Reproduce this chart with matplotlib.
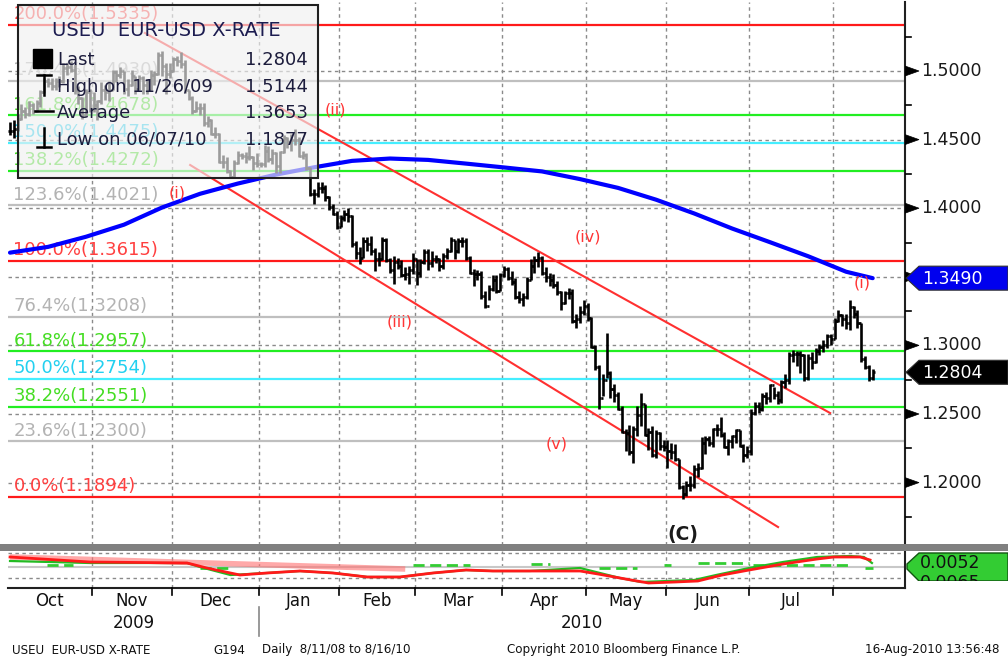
import numpy as np
import pandas as pd
import matplotlib
matplotlib.use("Agg")
import matplotlib.pyplot as plt
from matplotlib.collections import LineCollection
from matplotlib.patches import Rectangle, Polygon
from matplotlib.transforms import blended_transform_factory as blend

plt.rcParams['font.family'] = ['DejaVu Sans']

# ---------------- data ----------------
# daily EUR-USD bars, 1 Oct 2009 .. 16 Aug 2010 (business days)
close = [
    1.4560,1.4575,1.4650,1.4710,1.4690,1.4750,1.4710,1.4770,1.4850,1.4930,1.4910,1.4890,1.4930,1.4930,1.5020,1.5030,1.5010,1.4860,1.4800,1.4680,1.4850,1.4720,
    1.4750,1.4780,1.4860,1.4850,1.4860,1.4990,1.4970,1.5000,1.4870,1.4900,1.4960,1.4870,1.4950,1.4900,1.4860,1.4970,1.4980,1.5120,1.5040,1.4980,1.5000,
    1.5090,1.5070,1.5050,1.4860,1.4800,1.4710,1.4730,1.4730,1.4620,1.4640,1.4540,1.4540,1.4340,1.4340,1.4270,1.4230,1.4330,1.4390,1.4380,1.4370,1.4370,1.4330,1.4320,
    1.4320,1.4420,1.4360,1.4400,1.4310,1.4410,1.4510,1.4480,1.4500,1.4500,1.4380,1.4390,1.4290,1.4100,1.4100,1.4150,1.4150,1.4080,1.4010,1.3960,1.3860,
    1.3930,1.3960,1.3940,1.3740,1.3670,1.3640,1.3760,1.3740,1.3690,1.3630,1.3630,1.3770,1.3620,1.3550,1.3610,1.3580,1.3510,1.3520,1.3550,1.3630,
    1.3530,1.3610,1.3680,1.3600,1.3630,1.3630,1.3580,1.3650,1.3690,1.3770,1.3690,1.3760,1.3760,1.3640,1.3530,1.3520,1.3520,1.3360,1.3290,1.3410,1.3480,1.3400,1.3510,
    1.3560,1.3490,1.3460,1.3350,1.3340,1.3350,1.3480,1.3580,1.3620,1.3640,1.3530,1.3500,1.3480,1.3440,1.3390,1.3310,1.3380,1.3380,1.3180,1.3190,1.3240,1.3290,
    1.3200,1.2990,1.2840,1.2620,1.2750,1.2800,1.2680,1.2640,1.2540,1.2370,1.2360,1.2220,1.2390,1.2490,1.2570,1.2350,1.2370,1.2200,1.2360,1.2270,1.2260,
    1.2230,1.2220,1.2170,1.1970,1.1920,1.1980,1.1980,1.2100,1.2110,1.2290,1.2320,1.2290,1.2390,1.2390,1.2350,1.2260,1.2300,1.2340,1.2380,1.2270,1.2200,1.2230,
    1.2510,1.2560,1.2540,1.2630,1.2620,1.2710,1.2640,1.2600,1.2730,1.2750,1.2930,1.2940,1.2940,1.2930,1.2760,1.2910,1.2880,1.2960,1.2990,1.3000,1.3070,1.3050,
    1.3180,1.3220,1.3190,1.3160,1.3280,1.3230,1.3160,1.2900,1.2840,1.2760,1.2804,
]
high = [
    1.4630,1.4640,1.4690,1.4760,1.4740,1.4780,1.4770,1.4790,1.4860,1.4950,1.4950,1.4950,1.4950,1.4960,1.5060,1.5060,1.5070,1.5050,1.4890,1.4810,1.4870,1.4870,
    1.4850,1.4790,1.4920,1.4900,1.4930,1.5010,1.5010,1.5030,1.5000,1.4940,1.5010,1.4960,1.4970,1.4960,1.4940,1.5010,1.5000,1.5140,1.5144,1.5060,1.5060,
    1.5100,1.5110,1.5140,1.5080,1.4860,1.4820,1.4780,1.4770,1.4770,1.4670,1.4650,1.4590,1.4550,1.4390,1.4370,1.4280,1.4350,1.4420,1.4400,1.4410,1.4450,1.4380,1.4400,
    1.4340,1.4460,1.4450,1.4430,1.4410,1.4420,1.4530,1.4520,1.4540,1.4580,1.4520,1.4420,1.4400,1.4300,1.4140,1.4190,1.4190,1.4170,1.4090,1.4030,1.3980,
    1.3950,1.3990,1.4000,1.3950,1.3760,1.3720,1.3790,1.3790,1.3800,1.3710,1.3680,1.3790,1.3780,1.3640,1.3650,1.3640,1.3620,1.3570,1.3580,1.3670,
    1.3630,1.3630,1.3700,1.3700,1.3690,1.3660,1.3640,1.3670,1.3710,1.3790,1.3770,1.3780,1.3790,1.3780,1.3650,1.3560,1.3550,1.3540,1.3400,1.3440,1.3510,1.3510,1.3530,
    1.3580,1.3570,1.3540,1.3490,1.3400,1.3380,1.3500,1.3630,1.3650,1.3680,1.3650,1.3570,1.3530,1.3520,1.3470,1.3400,1.3400,1.3420,1.3410,1.3230,1.3290,1.3330,
    1.3310,1.3210,1.3000,1.2860,1.2790,1.3090,1.2810,1.2720,1.2660,1.2560,1.2390,1.2420,1.2410,1.2560,1.2650,1.2570,1.2400,1.2410,1.2380,1.2370,1.2310,
    1.2310,1.2290,1.2280,1.2170,1.1980,1.2010,1.2050,1.2130,1.2140,1.2330,1.2340,1.2340,1.2400,1.2430,1.2480,1.2370,1.2320,1.2350,1.2390,1.2380,1.2280,1.2270,
    1.2540,1.2590,1.2590,1.2650,1.2660,1.2720,1.2700,1.2670,1.2750,1.2790,1.2950,1.2970,1.2960,1.2960,1.2940,1.2940,1.2950,1.2980,1.3010,1.3040,1.3080,1.3080,
    1.3200,1.3260,1.3230,1.3230,1.3330,1.3290,1.3260,1.3160,1.2920,1.2860,1.2830,
]
low = [
    1.4530,1.4510,1.4560,1.4640,1.4660,1.4670,1.4690,1.4700,1.4740,1.4840,1.4880,1.4860,1.4860,1.4880,1.4910,1.4970,1.4990,1.4830,1.4760,1.4650,1.4670,1.4700,
    1.4700,1.4640,1.4760,1.4790,1.4780,1.4860,1.4920,1.4950,1.4830,1.4820,1.4890,1.4830,1.4860,1.4830,1.4830,1.4860,1.4900,1.4970,1.4960,1.4830,1.4950,
    1.4990,1.5040,1.5020,1.4840,1.4790,1.4690,1.4700,1.4680,1.4600,1.4590,1.4530,1.4510,1.4330,1.4290,1.4260,1.4220,1.4220,1.4320,1.4360,1.4330,1.4350,1.4280,1.4300,
    1.4300,1.4300,1.4340,1.4320,1.4260,1.4260,1.4400,1.4440,1.4420,1.4460,1.4370,1.4360,1.4280,1.4090,1.4030,1.4080,1.4110,1.4050,1.3990,1.3950,1.3850,
    1.3860,1.3910,1.3900,1.3720,1.3630,1.3590,1.3640,1.3690,1.3660,1.3540,1.3580,1.3620,1.3610,1.3530,1.3450,1.3560,1.3500,1.3480,1.3450,1.3520,
    1.3440,1.3500,1.3590,1.3550,1.3570,1.3600,1.3540,1.3560,1.3630,1.3680,1.3630,1.3670,1.3720,1.3620,1.3520,1.3430,1.3480,1.3340,1.3270,1.3330,1.3400,1.3380,1.3400,
    1.3500,1.3480,1.3440,1.3340,1.3310,1.3290,1.3340,1.3480,1.3530,1.3570,1.3510,1.3460,1.3430,1.3420,1.3370,1.3260,1.3300,1.3340,1.3160,1.3130,1.3160,1.3220,
    1.3180,1.2980,1.2820,1.2540,1.2630,1.2760,1.2620,1.2590,1.2530,1.2360,1.2230,1.2200,1.2140,1.2340,1.2410,1.2340,1.2240,1.2190,1.2180,1.2240,1.2230,
    1.2110,1.2170,1.2160,1.1950,1.1877,1.1900,1.1940,1.1960,1.2040,1.2100,1.2210,1.2270,1.2260,1.2340,1.2330,1.2250,1.2200,1.2250,1.2290,1.2260,1.2150,1.2180,
    1.2200,1.2490,1.2510,1.2520,1.2570,1.2590,1.2610,1.2570,1.2580,1.2690,1.2720,1.2880,1.2850,1.2800,1.2740,1.2750,1.2830,1.2870,1.2930,1.2950,1.2980,1.3000,
    1.3050,1.3170,1.3140,1.3120,1.3110,1.3200,1.3130,1.2880,1.2830,1.2740,1.2750,
]

# moving average (blue), read at trading-day indices
ma_idx = [0, 10, 20, 30, 40, 50, 60, 70, 80, 90, 100, 110, 120, 130, 140, 150, 160, 170, 180, 190, 200, 210, 220, 227]
ma_val = [1.3676, 1.3718, 1.3792, 1.3880, 1.4005, 1.4105, 1.4180, 1.4245, 1.4298, 1.4345, 1.4362, 1.4352,
          1.4325, 1.4297, 1.4268, 1.4212, 1.4148, 1.4062, 1.3962, 1.3852, 1.3752, 1.3650, 1.3537, 1.3490]

# trend channel
upper_idx = [35.5, 215.8]
upper_val = [1.5277, 1.2507]
lower_idx = [47.4, 202.1]
lower_val = [1.4315, 1.1676]

# Fibonacci levels
fib_pct = ["200.0%", "176.4%", "161.8%", "150.0%", "138.2%", "123.6%", "100.0%",
           "76.4%", "61.8%", "50.0%", "38.2%", "23.6%", "0.0%"]
fib_val = [1.5335, 1.4930, 1.4678, 1.4475, 1.4272, 1.4021, 1.3615,
           1.3208, 1.2957, 1.2754, 1.2551, 1.2300, 1.1894]
fib_kind = ["r", "g", "G", "c", "G", "g", "r", "g", "G", "c", "G", "g", "r"]

# Elliott wave labels
wave_txt = ["(i)", "(ii)", "(iii)", "(iv)", "(v)", "(C)", "(i)"]
wave_idx = [43.9, 85.5, 102.6, 152.1, 143.9, 177.1, 224.2]
wave_val = [1.411, 1.4716, 1.317, 1.379, 1.228, 1.162, 1.3455]

price_ticks = [1.20, 1.25, 1.30, 1.35, 1.40, 1.45, 1.50]
price_labels = ["1.2000", "1.2500", "1.3000", None, "1.4000", "1.4500", "1.5000"]
minor_ticks = [1.175, 1.225, 1.275, 1.325, 1.375, 1.425, 1.475, 1.525]
month_labels = ["Oct", "Nov", "Dec", "Jan", "Feb", "Mar", "Apr", "May", "Jun", "Jul"]

legend_rows = [("Last", "1.2804"), ("High on 11/26/09", "1.5144"),
               ("Average", "1.3653"), ("Low on 06/07/10", "1.1877")]
last_price = 1.2804
ma_last = 1.3490

# lower indicator panel
sig_idx = [0, 21, 46.6, 51.8, 60.5, 67.6, 76.3, 85, 94, 102.6, 111.3, 120, 127, 136.8, 150, 154.7,
           163.4, 168, 175, 181, 187.4, 194.5, 203.4, 212.4, 216.8, 223.7, 226.3]
sig_val = [0.010, 0.005, 0.004, -0.001, -0.008, -0.006, -0.004, -0.006, -0.010, -0.010, -0.006, -0.003,
           -0.004, -0.004, -0.004, -0.007, -0.013, -0.016, -0.015, -0.014, -0.008, -0.003, 0.003, 0.008,
           0.010, 0.010, 0.007]
macd_idx = [0, 21, 46.6, 50, 58, 67.6, 76.3, 85, 94, 102.6, 111.3, 120, 127, 136.8, 150, 160.5, 166,
            180, 185.8, 194.5, 203.4, 212.4, 221, 224.7, 226.8]
macd_val = [0.006, 0.004, 0.004, 0.000, -0.008, -0.006, -0.004, -0.006, -0.010, -0.010, -0.006, -0.003,
            -0.004, -0.004, -0.001, -0.011, -0.015, -0.013, -0.008, -0.001, 0.005, 0.010, 0.011, 0.010, 0.004]
hist_start = [9.7, 50, 106, 137, 155, 172, 181, 195.5, 225]
hist_end = [16.6, 58.7, 121, 142, 165, 174, 194.5, 221, 227]
hist_val = [0.002, -0.001, 0.002, 0.003, -0.001, 0.002, 0.004, 0.002, -0.001]
trend_idx = [0, 104]
trend_val = [0.010, -0.002]

# ---------------- layout ----------------
W, H, DPI = 1008, 664, 100
fig = plt.figure(figsize=(W / DPI, H / DPI), dpi=DPI)
fig.patch.set_facecolor("white")


def fx(px):
    return px / W


def fy(py):
    return 1 - py / H


n = len(close)
XL = (-0.53, 235.5)
YL = (1.5 - (545 - 71) / 1372, 1.5 + (71 - 2) / 1372)

ax = fig.add_axes([fx(8), fy(545), 897 / W, 543 / H])
ax.set_xlim(*XL)
ax.set_ylim(*YL)
for s in ["left", "top", "bottom"]:
    ax.spines[s].set_visible(False)
ax.spines["right"].set_color("#202020")
ax.spines["right"].set_linewidth(1.5)
ax.set_xticks([])
ax.set_yticks([])

lax = fig.add_axes([fx(8), fy(588), 897 / W, 37 / H])
lax.set_xlim(*XL)
lax.set_ylim(-0.021, 0.016)
for s in ["left", "top"]:
    lax.spines[s].set_visible(False)
for s in ["right", "bottom"]:
    lax.spines[s].set_color("#202020")
    lax.spines[s].set_linewidth(1.5)
lax.set_xticks([])
lax.set_yticks([])

GRID = dict(color="#8a8a8a", lw=1.0, ls=(0, (2.5, 2.5)), zorder=1)
for p in price_ticks:
    ax.axhline(p, **GRID)

dates = pd.bdate_range("2009-10-01", periods=n)
months = dates.month
bounds = [i - 0.5 for i in range(1, n) if months[i] != months[i - 1]]
for b in bounds:
    ax.axvline(b, **GRID)
    lax.axvline(b, **GRID)

# fib lines & labels
line_col = {"r": "#ff1a1a", "g": "#bfbfbf", "G": "#22ee22", "c": "#44eeff"}
text_col = {"r": "#ff4040", "g": "#b3b3b3", "G": "#44dd22", "c": "#22d0f0"}
lbl_tr = blend(ax.transAxes, ax.transData)
for pct, v, k in zip(fib_pct, fib_val, fib_kind):
    ax.axhline(v, color=line_col[k], lw=1.6, zorder=2)
    ax.annotate(f"{pct}({v:.4f})", xy=(0.006, v), xycoords=lbl_tr, xytext=(0, 1.2),
                textcoords="offset points", ha="left", va="bottom",
                fontsize=13, color=text_col[k], zorder=3)

# channel
ax.plot(upper_idx, upper_val, color="#ff3030", lw=1.5, zorder=3)
ax.plot(lower_idx, lower_val, color="#ff3030", lw=1.5, zorder=3)

# moving average
ax.plot(ma_idx, ma_val, color="#0000ff", lw=3, zorder=4, solid_capstyle="round")

# OHLC bars
x = np.arange(n)
cl = np.array(close)
opens = np.r_[cl[0], cl[:-1]]
segs = []
for i in range(n):
    segs.append([(x[i], low[i]), (x[i], high[i])])
    segs.append([(x[i] - 0.55, opens[i]), (x[i], opens[i])])
    segs.append([(x[i], close[i]), (x[i] + 0.55, close[i])])
ax.add_collection(LineCollection(segs, colors="black", linewidths=1.9, zorder=5))

# wave labels
for t, i, v in zip(wave_txt, wave_idx, wave_val):
    if t == "(C)":
        ax.text(i, v, t, ha="center", va="center", fontsize=13.5, color="#1a1a1a",
                fontweight="semibold", zorder=6)
    else:
        ax.text(i, v, t, ha="center", va="center", fontsize=11.5, color="#ff3535", zorder=6)

# ---------------- right axis ----------------
rax = fig.add_axes([fx(905), fy(545), 103 / W, 543 / H])
rax.set_xlim(0, 103)
rax.set_ylim(*YL)
rax.axis("off")
px = 1 / 1372
for p, lab in zip(price_ticks, price_labels):
    rax.add_patch(Polygon([(0, p + 5 * px), (14, p), (0, p - 5 * px)], closed=True,
                          facecolor="black", edgecolor="black", lw=0.5))
    if lab:
        rax.text(16, p, lab, ha="left", va="center", fontsize=12.5, color="#1a1a1a")
for p in minor_ticks:
    rax.plot([0, 6], [p, p], color="black", lw=1.2)


def callout(axr, v, face, txt, tcol):
    h = 12 * px
    axr.add_patch(Polygon([(1, v), (14, v + h), (103, v + h), (103, v - h), (14, v - h)],
                          closed=True, facecolor=face, edgecolor="#303030", lw=0.8, zorder=5))
    axr.text(17, v - 1 * px, txt, ha="left", va="center", fontsize=12.5, color=tcol, zorder=6)


callout(rax, ma_last, "#0000ee", f"{ma_last:.4f}", "white")
callout(rax, last_price, "#000000", f"{last_price:.4f}", "white")

# ---------------- lower panel ----------------
lax.axhline(0.014, **GRID)
lax.axhline(-0.011, **GRID)
lax.axhline(0.0, color="#c8c8c8", lw=1.5, zorder=1)
lax.plot(trend_idx, trend_val, color="#ff7070", lw=4, alpha=0.6, zorder=2, solid_capstyle="butt")
for a, b, v in zip(hist_start, hist_end, hist_val):
    lax.plot([a, b], [v, v], color="#33cc33", lw=2, ls=(0, (4, 2)), zorder=2)
lax.plot(macd_idx, macd_val, color="#22bb22", lw=1.6, zorder=3)
lax.plot(sig_idx, sig_val, color="#ff1a1a", lw=2.0, zorder=4)

rlax = fig.add_axes([fx(905), fy(581), 103 / W, 29 / H])
rlax.set_xlim(0, 103)
rlax.set_ylim(29, 0)
rlax.axis("off")
rlax.add_patch(Polygon([(2, 12), (14, 1), (103, 1), (103, 29), (14, 29), (2, 17)], closed=True,
                       facecolor="#33cc33", edgecolor="#115511", lw=1.0))
rlax.text(15, 11, "0.0052", ha="left", va="center", fontsize=12.5, color="#111111")
rlax.text(15, 31, "0.0065", ha="left", va="center", fontsize=12.5, color="#111111", clip_on=True)

# gray separator bar
fig.add_artist(Rectangle((0, fy(551)), 1, 7 / H, transform=fig.transFigure,
                         facecolor="#808080", edgecolor="none", zorder=3))

# ---------------- legend box ----------------
fig.add_artist(Rectangle((fx(18), fy(178)), 300 / W, 173 / H, transform=fig.transFigure,
                         facecolor="#f0f0f0", alpha=0.65, edgecolor="none", zorder=5))
fig.add_artist(Rectangle((fx(18), fy(178)), 300 / W, 173 / H, transform=fig.transFigure,
                         fill=False, edgecolor="#202020", lw=1.5, zorder=7))
TXT = "#1c1c3c"
fig.text(fx(52), fy(31), "USEU  EUR-USD X-RATE", fontsize=14, color="#1c1c50",
         ha="left", va="center", zorder=8)
row_y = [60, 87, 113, 140]
for (lab, val), yy in zip(legend_rows, row_y):
    fig.text(fx(57), fy(yy), lab, fontsize=13, color=TXT, ha="left", va="center", zorder=8)
    fig.text(fx(308), fy(yy), val, fontsize=13, color=TXT, ha="right", va="center", zorder=8)
fig.add_artist(Rectangle((fx(33), fy(68)), 19 / W, 19 / H, transform=fig.transFigure,
                         facecolor="black", edgecolor="black", zorder=8))
mk = dict(color="black", lw=1.8, transform=fig.transFigure, zorder=8)
fig.add_artist(plt.Line2D([fx(37), fx(51)], [fy(75), fy(75)], **mk))
fig.add_artist(plt.Line2D([fx(44), fx(44)], [fy(75), fy(95)], **mk))
fig.add_artist(plt.Line2D([fx(35), fx(53)], [fy(111), fy(111)], **mk))
fig.add_artist(plt.Line2D([fx(44), fx(44)], [fy(128), fy(147)], **mk))
fig.add_artist(plt.Line2D([fx(37), fx(51)], [fy(147), fy(147)], **mk))

# ---------------- month / year labels ----------------
xfig = blend(ax.transData, fig.transFigure)
edges = [-0.5] + bounds + [n - 0.5]
for k, lab in enumerate(month_labels):
    c = (edges[k] + edges[k + 1]) / 2
    fig.text(c, fy(601), lab, transform=xfig, ha="center", va="center", fontsize=12, color="#111111")
for b in bounds:
    fig.add_artist(plt.Line2D([b, b], [fy(588), fy(595)], color="black", lw=1.2, transform=xfig))
jan_b = bounds[2]
fig.add_artist(plt.Line2D([jan_b, jan_b], [fy(607), fy(636)], color="#888888", lw=1.2, transform=xfig))
fig.text((edges[0] + jan_b) / 2, fy(623), "2009", transform=xfig, ha="center", va="center",
         fontsize=12, color="#111111")
fig.text((jan_b + XL[1]) / 2, fy(623), "2010", transform=xfig, ha="center", va="center",
         fontsize=12, color="#111111")

# ---------------- footer ----------------
foot = [(12, "USEU  EUR-USD X-RATE"), (213, "G194"), (262, "Daily  8/11/08 to 8/16/10"),
        (507, "Copyright 2010 Bloomberg Finance L.P."), (865, "16-Aug-2010 13:56:48")]
for xx, t in foot:
    fig.text(fx(xx), fy(650), t, fontsize=8.6, color="#111111", ha="left", va="center")

fig.savefig("out.png", dpi=DPI, facecolor="white")
